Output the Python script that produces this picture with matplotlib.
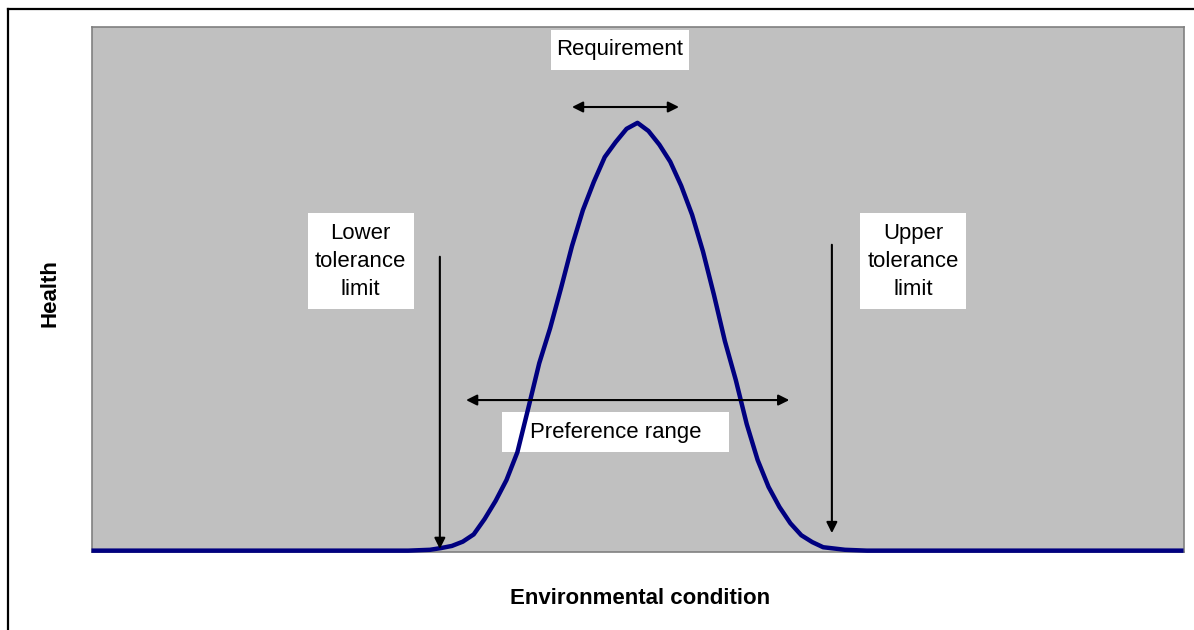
import matplotlib
matplotlib.use("Agg")
import matplotlib.pyplot as plt
from matplotlib.patches import Rectangle
from matplotlib.lines import Line2D

plt.rcParams['font.family'] = ['Liberation Sans', 'DejaVu Sans']

# Data: health along 101 equally spaced environmental-condition steps
condition = list(range(101))
health_core = [0.001, 0.002, 0.006, 0.011, 0.021, 0.038, 0.074, 0.116, 0.165, 0.230,
               0.333, 0.438, 0.520, 0.614, 0.712, 0.796, 0.862, 0.920, 0.955, 0.986,
               1.000, 0.981, 0.949, 0.909, 0.853, 0.785, 0.699, 0.598, 0.490, 0.399,
               0.296, 0.212, 0.149, 0.102, 0.064, 0.036, 0.020, 0.008, 0.005, 0.002,
               0.001]
health = [0.0] * 30 + health_core + [0.0] * 30

x_label = "Environmental condition"
y_label = "Health"

W, H = 1194, 630
fig = plt.figure(figsize=(W / 100, H / 100), dpi=100)
fig.patch.set_facecolor('white')

left, right, top, bottom = 91.5, 1183.5, 27, 551.5
ax = fig.add_axes([left / W, 1 - bottom / H, (right - left) / W, (bottom - top) / H])
ax.set_facecolor('#C0C0C0')
for s in ax.spines.values():
    s.set_color('#808080')
    s.set_linewidth(1.2)
ax.set_xticks([])
ax.set_yticks([])
ax.set_xlim(0, 100)
ax.set_ylim(-0.002, 1.224)

ax.plot(condition, health, color='#000080', lw=3.2, solid_joinstyle='round',
        solid_capstyle='butt', clip_on=False, zorder=3)

fs = 15.9
arrow_kw = dict(color='black', lw=1.5, shrinkA=0, shrinkB=0, mutation_scale=16)

# Requirement
ax.add_patch(Rectangle((42.1, 1.124), 12.6, 0.0935, facecolor='white', edgecolor='none', zorder=2))
ax.text(48.4, 1.172, "Requirement", ha='center', va='center', fontsize=fs, zorder=4)
ax.annotate("", xy=(44.0, 1.037), xytext=(53.8, 1.037),
            arrowprops=dict(arrowstyle='<|-|>', **arrow_kw), zorder=4)

# Lower tolerance limit
ax.add_patch(Rectangle((19.8, 0.565), 9.7, 0.224, facecolor='white', edgecolor='none', zorder=2))
ax.text(24.65, 0.676, "Lower\ntolerance\nlimit", ha='center', va='center',
        fontsize=fs, linespacing=1.45, zorder=4)
ax.annotate("", xy=(31.9, 0.004), xytext=(31.9, 0.687),
            arrowprops=dict(arrowstyle='-|>', **arrow_kw), zorder=4)

# Upper tolerance limit
ax.add_patch(Rectangle((70.4, 0.565), 9.7, 0.224, facecolor='white', edgecolor='none', zorder=2))
ax.text(75.25, 0.676, "Upper\ntolerance\nlimit", ha='center', va='center',
        fontsize=fs, linespacing=1.45, zorder=4)
ax.annotate("", xy=(67.8, 0.041), xytext=(67.8, 0.715),
            arrowprops=dict(arrowstyle='-|>', **arrow_kw), zorder=4)

# Preference range
ax.annotate("", xy=(34.3, 0.352), xytext=(63.9, 0.352),
            arrowprops=dict(arrowstyle='<|-|>', **arrow_kw), zorder=4)
ax.add_patch(Rectangle((37.6, 0.2304), 20.8, 0.0936, facecolor='white', edgecolor='none', zorder=2))
ax.text(48.0, 0.275, "Preference range", ha='center', va='center', fontsize=fs, zorder=4)

# Axis titles
fig.text(640 / W, 1 - 599 / H, x_label, ha='center', va='center',
         fontsize=16, fontweight='bold')
fig.text(50 / W, 1 - 293 / H, y_label, ha='center', va='center',
         fontsize=16, fontweight='bold', rotation=90)

# Outer chart frame (top and left visible)
fig.add_artist(Line2D([8 / W, 1.0], [1 - 9 / H, 1 - 9 / H], color='black', lw=1.6,
                      transform=fig.transFigure))
fig.add_artist(Line2D([8 / W, 8 / W], [1 - 9 / H, 0.0], color='black', lw=1.6,
                      transform=fig.transFigure))

fig.savefig("out.png", dpi=100)
